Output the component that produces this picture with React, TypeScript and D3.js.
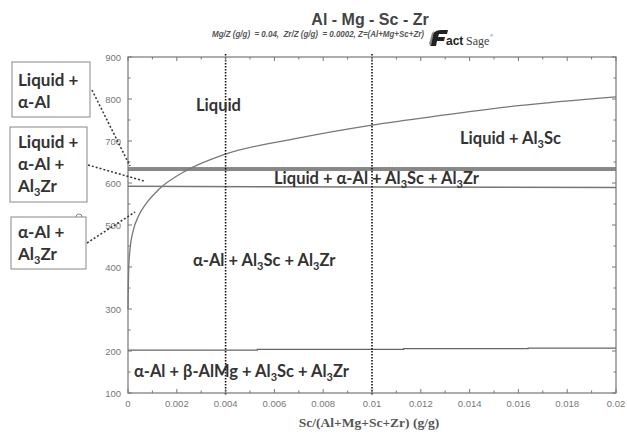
import React from "react";
import * as d3 from "d3";

const W = 627;
const H = 436;

// Data
const xTicks = [0, 0.002, 0.004, 0.006, 0.008, 0.01, 0.012, 0.014, 0.016, 0.018, 0.02];
const xTickLabels = ["0", "0.002", "0.004", "0.006", "0.008", "0.01", "0.012", "0.014", "0.016", "0.018", "0.02"];
const yTicks = [100, 200, 300, 400, 500, 600, 700, 800, 900];

// Al3Sc solvus / liquidus curve
const curveX = [0, 0.00001, 0.00003, 0.00008, 0.00022, 0.00042, 0.00077, 0.00127, 0.0024, 0.0039, 0.0068, 0.01, 0.013, 0.016, 0.02];
const curveT = [300, 340, 400, 440, 488, 520, 553, 585, 630, 667, 705, 738, 762, 784, 805];

// horizontal boundaries
const bandTop = 638;
const bandBottom = 628.5;
const eutecticX = [0, 0.02];
const eutecticT = [592, 589];
const lowX = [0, 0.0053, 0.0053, 0.0113, 0.0113, 0.0164, 0.0164, 0.02];
const lowT = [202, 202, 204, 204, 205.5, 205.5, 207, 207];

const vLines = [0.004, 0.01];

const x = d3.scaleLinear().domain([0, 0.02]).range([128, 616]);
const y = d3.scaleLinear().domain([100, 900]).range([393, 57]);

const labelFont = "Lato, 'Open Sans', sans-serif";
const axisFont = "'Liberation Sans', Arial, sans-serif";

function Sub({ children }: { children: React.ReactNode }) {
  return (
    <tspan fontSize="11" dy="4">
      {children}
    </tspan>
  );
}

export default function App() {
  const line = d3
    .line<number>()
    .x((_, i) => x(curveX[i]))
    .y((d) => y(d))
    .curve(d3.curveMonotoneX);

  const straight = (xs: number[], ts: number[]) =>
    d3
      .line<number>()
      .x((_, i) => x(xs[i]))
      .y((d) => y(d))(ts) as string;

  const minorX = d3.range(0, 0.02001, 0.001);
  const minorY = d3.range(100, 901, 50);

  const x0 = x(0),
    x1 = x(0.02),
    y0 = y(100),
    y1 = y(900);

  return (
    <svg
      width={W}
      height={H}
      style={{ position: "absolute", left: 0, top: 0, background: "#fff" }}
    >
      <rect x={0} y={0} width={W} height={H} fill="#fff" />
      {/* Title */}
      <text x={370} y={25} textAnchor="middle" fontFamily={axisFont} fontWeight="bold" fontSize={16} fill="#444">
        Al - Mg - Sc - Zr
      </text>
      <text
        x={212}
        y={37}
        fontFamily={axisFont}
        fontStyle="italic"
        fontWeight="bold"
        fontSize={8.5}
        fill="#555"
        style={{ whiteSpace: "pre" }}
        textLength={212}
        lengthAdjust="spacingAndGlyphs"
      >
        {"Mg/Z (g/g)  = 0.04,  Zr/Z (g/g)  = 0.0002, Z=(Al+Mg+Sc+Zr)"}
      </text>
      {/* FactSage logo */}
      <g>
        <path d="M430,46 L433,34 Q435,30 442,30 L448,30 L447,34 L439,34 L438,37 L445,37 L444,41 L437,41 L436,46 Z" fill="#222" />
        <path d="M431,46 L429,44 L432,33 L434,31 Z" fill="#888" />
        <text x={446} y={45} fontFamily={axisFont} fontWeight="bold" fontSize={12} fill="#222">
          act
        </text>
        <text x={466} y={45} fontFamily="'Liberation Serif', serif" fontSize={12} fill="#444">
          Sage
        </text>
        <text x={490} y={37} fontFamily={axisFont} fontSize={4} fill="#333">
          ®
        </text>
      </g>

      {/* Band between liquidus lines */}
      <rect x={x0} y={y(bandTop)} width={x1 - x0} height={y(bandBottom) - y(bandTop)} fill="#888" />
      <path d={straight(eutecticX, eutecticT)} stroke="#777" strokeWidth={1.5} fill="none" />
      <path d={straight(lowX, lowT)} stroke="#666" strokeWidth={1.3} fill="none" />
      <path d={line(curveT) as string} stroke="#777" strokeWidth={1.3} fill="none" />

      {/* vertical dotted lines */}
      {vLines.map((v) => (
        <line key={v} x1={x(v)} x2={x(v)} y1={y1 - 3} y2={y0 + 2} stroke="#111" strokeWidth={1.6} strokeDasharray="1.5,1.5" />
      ))}

      {/* frame */}
      <rect x={x0} y={y1} width={x1 - x0} height={y0 - y1} fill="none" stroke="#777" strokeWidth={1.2} />
      {/* ticks */}
      {minorX.map((t, i) => {
        const len = i % 2 === 0 ? 4 : 2.5;
        return (
          <g key={"mx" + i}>
            <line x1={x(t)} x2={x(t)} y1={y0} y2={y0 - len} stroke="#777" />
            <line x1={x(t)} x2={x(t)} y1={y1} y2={y1 + len} stroke="#777" />
          </g>
        );
      })}
      {minorY.map((t, i) => {
        const len = i % 2 === 0 ? 4 : 2.5;
        return (
          <g key={"my" + i}>
            <line x1={x0} x2={x0 + len} y1={y(t)} y2={y(t)} stroke="#777" />
            <line x1={x1} x2={x1 - len} y1={y(t)} y2={y(t)} stroke="#777" />
          </g>
        );
      })}
      {/* tick labels */}
      {yTicks.map((t) => (
        <text key={"yl" + t} x={121} y={y(t) + 3.5} textAnchor="end" fontFamily={axisFont} fontSize={9.5} fill="#777">
          {t}
        </text>
      ))}
      {xTicks.map((t, i) => (
        <text key={"xl" + i} x={x(t)} y={407} textAnchor="middle" fontFamily={axisFont} fontSize={9.5} fill="#777">
          {xTickLabels[i]}
        </text>
      ))}
      <text x={369} y={427} textAnchor="middle" fontFamily="'Liberation Serif', serif" fontWeight="bold" fontSize={13.5} fill="#555">
        Sc/(Al+Mg+Sc+Zr) (g/g)
      </text>

      {/* region labels */}
      <g fontFamily={labelFont} fontWeight="bold" fontSize={16.5} fill="#333">
        <text x={196} y={111}>Liquid</text>
        <text x={460} y={144}>
          Liquid + Al<Sub>3</Sub>
          <tspan dy="-4">Sc</tspan>
        </text>
        <text x={274} y={184}>
          Liquid + α-Al + Al<Sub>3</Sub>
          <tspan dy="-4">Sc + Al</tspan>
          <Sub>3</Sub>
          <tspan dy="-4">Zr</tspan>
        </text>
        <text x={193} y={266}>
          α-Al + Al<Sub>3</Sub>
          <tspan dy="-4">Sc + Al</tspan>
          <Sub>3</Sub>
          <tspan dy="-4">Zr</tspan>
        </text>
        <text x={134} y={377}>
          α-Al + β-AlMg + Al<Sub>3</Sub>
          <tspan dy="-4">Sc + Al</tspan>
          <Sub>3</Sub>
          <tspan dy="-4">Zr</tspan>
        </text>
      </g>

      {/* left boxes */}
      <g fill="#fff" stroke="#888" strokeWidth={1}>
        <rect x={12} y={62} width={78} height={55} />
        <rect x={10} y={127} width={77} height={75} />
        <rect x={11} y={217} width={75} height={52} />
        <path d="M76,217 a3,3 0 0 1 6,0" fill="none" />
      </g>
      <g fontFamily={labelFont} fontWeight="bold" fontSize={17} fill="#333">
        <text x={18} y={86}>Liquid +</text>
        <text x={18} y={108}>α-Al</text>
        <text x={18} y={148}>Liquid +</text>
        <text x={18} y={170}>α-Al +</text>
        <text x={18} y={192}>
          Al<Sub>3</Sub>
          <tspan dy="-4">Zr</tspan>
        </text>
        <text x={18} y={238}>α-Al +</text>
        <text x={18} y={260}>
          Al<Sub>3</Sub>
          <tspan dy="-4">Zr</tspan>
        </text>
      </g>
      {/* leader lines */}
      <g stroke="#333" strokeWidth={1.5} strokeDasharray="2,2" fill="none">
        <line x1={92} y1={90} x2={130} y2={166} />
        <line x1={88} y1={165} x2={144} y2={181} />
        <line x1={87} y1={243} x2={135} y2={212} />
      </g>
    </svg>
  );
}
